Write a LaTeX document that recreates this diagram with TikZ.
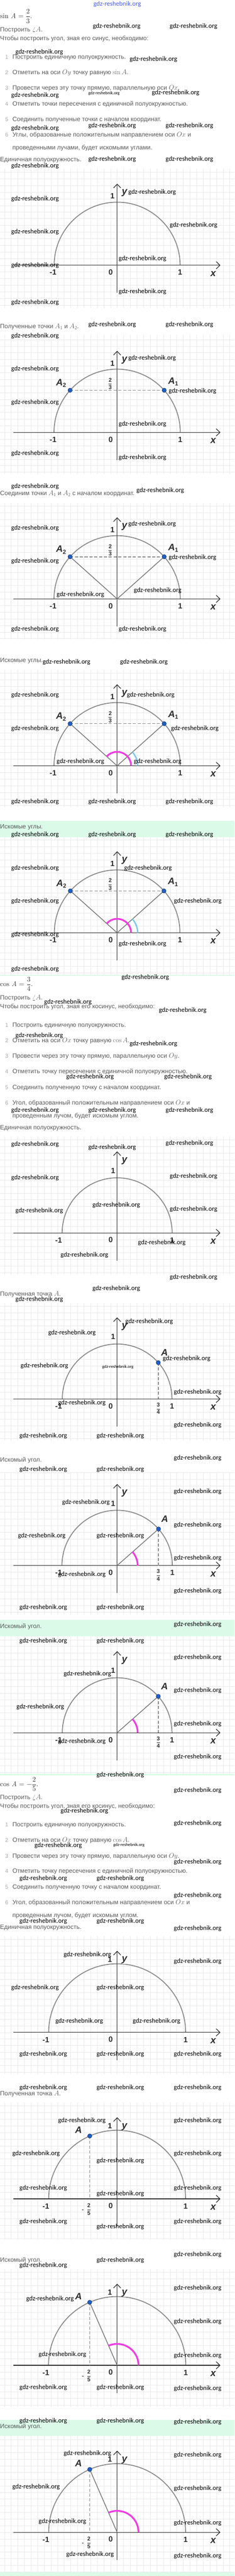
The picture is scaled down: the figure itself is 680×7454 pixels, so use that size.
\documentclass[tikz,border=0pt]{standalone}
\usepackage{fix-cm}
\usepackage{amsmath}
\usepackage[no-math]{fontspec}
\setmainfont{Liberation Sans}
\newfontfamily\wmfont{Carlito}
\newfontfamily\lmr{lmroman10-regular.otf}[ItalicFont=lmroman10-italic.otf]
\usetikzlibrary{arrows.meta,calc}
\definecolor{txtc}{HTML}{5A5A5A}
\definecolor{numc}{HTML}{A8A8A8}
\definecolor{frmc}{HTML}{333333}
\definecolor{gridc}{HTML}{EAEAEA}
\definecolor{mint}{HTML}{DBFBE8}
\definecolor{arcc}{HTML}{8A8A8A}
\definecolor{axc}{HTML}{2E2E2E}
\definecolor{dashc}{HTML}{8C8C8C}
\definecolor{rayc}{HTML}{7A7A7A}
\definecolor{ptc}{HTML}{1F5FC4}
\definecolor{ptd}{HTML}{17386E}
\definecolor{mag}{HTML}{F03CE2}
\definecolor{cya}{HTML}{7CC8EE}
\definecolor{wmblue}{HTML}{4A5CF0}
\newcommand\mth[1]{{\fontsize{20}{20}\selectfont$#1$}}
\newcommand\myfrac[2]{$\genfrac{}{}{1.1pt}{0}{\mbox{#1}}{\mbox{#2}}$}
\newcommand\lfr[2]{$\genfrac{}{}{0.8pt}{0}{\mbox{\lmr #1}}{\mbox{\lmr #2}}$}
\newcommand\lsub[1]{\raisebox{-5pt}{\upshape\fontsize{17}{17}\selectfont#1}}
\tikzset{
 gl/.style={draw=gridc, line width=0.9pt},
 axis/.style={draw=axc, line width=1.8pt},
 arrowax/.style={axis, -{Straight Barb[length=11pt,width=21pt]}},
 arcst/.style={draw=arcc, line width=2.6pt},
 dsh/.style={draw=dashc, dash pattern=on 9pt off 5pt},
 ray/.style={draw=rayc, line width=2.2pt},
 magst/.style={draw=mag, line width=5pt},
 cyast/.style={draw=cya, line width=4pt},
 ptdot/.style={circle, fill=ptc, draw=ptd, line width=0.9pt, minimum size=12.5pt, inner sep=0pt},
 axnum/.style={font=\bfseries\fontsize{22}{22}\selectfont, text=axc, inner sep=0pt},
 axvar/.style={font=\bfseries\itshape\fontsize{28}{28}\selectfont, text=axc, inner sep=0pt},
 ptlab/.style={font=\bfseries\itshape\fontsize{27}{27}\selectfont, text=axc, inner sep=0pt},
 frc/.style={font=\bfseries\fontsize{16}{16}\selectfont, text=axc, inner sep=0pt},
 txt/.style={anchor=base west, inner sep=0pt, yshift=-6pt, text=txtc, font=\fontsize{18}{21}\selectfont},
 itn/.style={anchor=base, inner sep=0pt, yshift=-6pt, text=numc, font=\fontsize{16}{18}\selectfont},
 frm/.style={anchor=base west, inner sep=0pt, text=frmc, font=\lmr\fontsize{20}{24}\selectfont},
 wm/.style={font=\wmfont\fontsize{19}{19}\selectfont, anchor=west, inner sep=0pt, text=black},
 wms/.style={font=\wmfont\fontsize{12.5}{12.5}\selectfont, anchor=west, inner sep=0pt, text=black},
}
\newcommand\gpanel[3]{%
 \fill[white] (0,#1) rectangle (680,#2);
 \begin{scope}
 \clip (0,#1) rectangle (680,#2);
 \foreach \k in {-18,...,18} \draw[gl] ({339.6+19.2*\k},#1) -- ({339.6+19.2*\k},#2);
 \foreach \k in {-25,...,25} \draw[gl] (0,{#3+19.2*\k}) -- (680,{#3+19.2*\k});
 \end{scope}}
\newcommand\semi[7]{%
 \coordinate (#1O) at (339.6,#2);
 \coordinate (#1R) at (339.6+#3,#2);
 \coordinate (#1xs) at (39,#2);
 \coordinate (#1xe) at (639,#2);
 \coordinate (#1yt) at (339.6,#2-236);
 \coordinate (#1yb) at (339.6,#2+80);
 \draw[arcst] (#1R) arc[start angle=0,end angle=180,radius=#3pt];
 \draw[arrowax] (#1xs) -- (#1xe);
 \draw[arrowax] (#1yb) -- (#1yt);
 \node[axnum] (#1lm) at (#6,#2+21) {-1};
 \node[axnum] (#1lz) at (321,#2+20.5) {0};
 \node[axnum] (#1lp) at (339.6+#3,#2+21) {1};
 \node[axvar] (#1lx) at (618,#2+24.5) {x};
 \node[axvar,#7] (#1ly) at (361,#2-208.5) {y};
 \node[axnum] (#1lu) at (#4,#2-#5) {1};
}
\newcommand\sinfig[4]{%
 \coordinate (#1A1) at ($(#1O)+(41.81:#2pt)$);
 \coordinate (#1A2) at ($(#1O)+(138.19:#2pt)$);
 \draw[dsh,line width=#3pt] (#1A2) -- (#1A1);
 \ifnum#4>0 \draw[ray] (#1O) -- (#1A1); \draw[ray] (#1O) -- (#1A2);\fi
 \ifnum#4>1
  \draw[magst] ($(#1O)+(40.5,0)$) arc[start angle=0,end angle=138.19,radius=40.5pt];
  \draw[cyast] ($(#1O)+(59.5,0)$) arc[start angle=0,end angle=41.81,radius=59.5pt];
 \fi
 \node[ptdot] (#1P1) at (#1A1) {};
 \node[ptdot] (#1P2) at (#1A2) {};
 \node[ptlab] (#1L1) at ($(#1A1)+(26,-25)$) {A\lsub{1}};
 \node[ptlab] (#1L2) at ($(#1A2)+(-26,-20)$) {A\lsub{2}};
 \node[frc] (#1F) at ($(#1O)+(-20,-141)$) {\myfrac{2}{3}};
}
\newcommand\cosa[3]{%
 \coordinate (#1A) at ($(#1O)+(41.41:#2pt)$);
 \draw[dsh,line width=2.6pt] (#1A) -- (#1A |- #1O);
 \ifnum#3>0 \draw[ray] (#1O) -- (#1A);
  \draw[magst] ($(#1O)+(59.5,0)$) arc[start angle=0,end angle=41.41,radius=59.5pt];\fi
 \node[ptdot] (#1P) at (#1A) {};
 \node[ptlab] (#1L) at ($(#1A)+(18,-29.5)$) {A};
 \node[frc] (#1F) at ($(#1O)+(119.3,27.7)$) {\myfrac{3}{4}};
}
\newcommand\cosb[3]{%
 \coordinate (#1A) at ($(#1O)+(113.58:#2pt)$);
 \draw[dsh,line width=2.6pt] (#1A) -- (#1A |- #1O);
 \ifnum#3>0 \draw[ray] (#1O) -- (#1A);
  \draw[magst] ($(#1O)+(62,0)$) arc[start angle=0,end angle=113.58,radius=62pt];\fi
 \node[ptdot] (#1P) at (#1A) {};
 \node[ptlab] (#1L) at ($(#1A)+(-32.5,-17)$) {A};
 \node[frc,anchor=east] (#1F) at ($(#1O)+(-76.2,30.5)$) {-\hspace{9pt}\myfrac{2}{5}};
}
\begin{document}
\begin{tikzpicture}[x=1pt,y=-1pt]
\useasboundingbox (0,0) rectangle (680,7454);
\fill[white] (0,0) rectangle (680,7454);
% green answer blocks
\fill[mint] (0,2374.2) rectangle (680,2823);
\fill[mint] (0,4686.8) rectangle (680,5137.4);
\fill[mint] (0,7001.9) rectangle (680,7454);
% ---------- section 1 texts
\node[frm] (f1) at (0,53.5) {sin \textit{A} = \lfr{2}{3}.};
\node[txt] (s1a) at (0,85.7) {Построить \mth{\angle A}.};
\node[txt] (s1b) at (0,111.6) {Чтобы построить угол, зная его синус, необходимо:};
\node[itn] (s1n1) at (19.5,164.6) {1};
\node[txt] (s1i1) at (36,164.6) {Построить единичную полуокружность.};
\node[itn] (s1n2) at (19.5,209.3) {2};
\node[txt] (s1i2) at (36,209.3) {Отметить на оси \mth{Oy} точку равную \mth{\sin A}.};
\node[itn] (s1n3) at (19.5,254.3) {3};
\node[txt] (s1i3) at (36,254.3) {Провести через эту точку прямую, параллельную оси \mth{Ox}.};
\node[itn] (s1n4) at (19.5,299.7) {4};
\node[txt] (s1i4) at (36,299.7) {Отметить точки пересечения с единичной полуокружностью.};
\node[itn] (s1n5) at (19.5,344.8) {5};
\node[txt] (s1i5) at (36,344.8) {Соединить полученные точки с началом координат.};
\node[itn] (s1n6) at (19.5,389.8) {6};
\node[txt] (s1i6) at (36,389.8) {Углы, образованные положительным направлением оси \mth{Ox} и};
\node[txt] (s1i6b) at (36,426.5) {проведенными лучами, будет искомыми углами.};
\node[txt] (s1c) at (0,461.2) {Единичная полуокружность.};
\node[txt] (s1d) at (0,944.9) {Полученные точки \mth{A_1} и \mth{A_2}.};
\node[txt] (s1e) at (0,1427.3) {Соединим точки \mth{A_1} и \mth{A_2} с началом координат.};
\node[txt] (s1f) at (0,1909.8) {Искомые углы.};
\node[txt] (s1g) at (0,2392.1) {Искомые углы.};
% ---------- section 2 texts
\node[frm] (f2) at (0,2854.5) {cos \textit{A} = \lfr{3}{4}.};
\node[txt] (s2a) at (0,2887.4) {Построить \mth{\angle A}.};
\node[txt] (s2b) at (0,2912.5) {Чтобы построить угол, зная его косинус, необходимо:};
\node[itn] (s2n1) at (19.5,2966.3) {1};
\node[txt] (s2i1) at (36,2966.3) {Построить единичную полуокружность.};
\node[itn] (s2n2) at (19.5,3010.9) {2};
\node[txt] (s2i2) at (36,3010.9) {Отметить на оси \mth{Ox} точку равную \mth{\cos A}.};
\node[itn] (s2n3) at (19.5,3056) {3};
\node[txt] (s2i3) at (36,3056) {Провести через эту точку прямую, параллельную оси \mth{Oy}.};
\node[itn] (s2n4) at (19.5,3100) {4};
\node[txt] (s2i4) at (36,3100) {Отметить точку пересечения с единичной полуокружностью.};
\node[itn] (s2n5) at (19.5,3145.8) {5};
\node[txt] (s2i5) at (36,3145.8) {Соединить полученную точку с началом координат.};
\node[itn] (s2n6) at (19.5,3190.9) {6};
\node[txt] (s2i6) at (36,3190.9) {Угол, образованный положительным направлением оси \mth{Ox} и};
\node[txt] (s2i6b) at (36,3227.6) {проведенным лучом, будет искомым углом.};
\node[txt] (s2c) at (0,3262.6) {Единичная полуокружность.};
\node[txt] (s2d) at (0,3743.9) {Полученная точка \mth{A}.};
\node[txt] (s2e) at (0,4224.2) {Искомый угол.};
\node[txt] (s2f) at (0,4705.9) {Искомый угол.};
% ---------- section 3 texts
\node[frm] (f3) at (0,5169.3) {cos \textit{A} = −\lfr{2}{5}.};
\node[txt] (s3a) at (0,5201.2) {Построить \mth{\angle A}.};
\node[txt] (s3b) at (0,5226.3) {Чтобы построить угол, зная его косинус, необходимо:};
\node[itn] (s3n1) at (19.5,5280.1) {1};
\node[txt] (s3i1) at (36,5280.1) {Построить единичную полуокружность.};
\node[itn] (s3n2) at (19.5,5324.7) {2};
\node[txt] (s3i2) at (36,5324.7) {Отметить на оси \mth{Ox} точку равную \mth{\cos A}.};
\node[itn] (s3n3) at (19.5,5369.8) {3};
\node[txt] (s3i3) at (36,5369.8) {Провести через эту точку прямую, параллельную оси \mth{Oy}.};
\node[itn] (s3n4) at (19.5,5414.4) {4};
\node[txt] (s3i4) at (36,5414.4) {Отметить точку пересечения с единичной полуокружностью.};
\node[itn] (s3n5) at (19.5,5460.2) {5};
\node[txt] (s3i5) at (36,5460.2) {Соединить полученную точку с началом координат.};
\node[itn] (s3n6) at (19.5,5504.9) {6};
\node[txt] (s3i6) at (36,5504.9) {Угол, образованный положительным направлением оси \mth{Ox} и};
\node[txt] (s3i6b) at (36,5542) {проведенным лучом, будет искомым углом.};
\node[txt] (s3c) at (0,5575.8) {Единичная полуокружность.};
\node[txt] (s3d) at (0,6057.1) {Полученная точка \mth{A}.};
\node[txt] (s3e) at (0,6538.8) {Искомый угол.};
\node[txt] (s3f) at (0,7021.3) {Искомый угол.};
% ---------- diagrams, section 1
\gpanel{487}{891}{767.5}
\semi{a}{767.5}{182.5}{326}{200}{154}{}
\gpanel{968.8}{1371.5}{1251.2}
\semi{b}{1251.2}{183}{326}{200}{154}{}
\sinfig{b}{183}{2.8}{0}
\gpanel{1455.2}{1850}{1733}
\semi{c}{1733}{183}{326}{200}{154}{}
\sinfig{c}{183}{2.8}{1}
\gpanel{1937.7}{2336.3}{2216}
\semi{d}{2216}{183}{326}{200}{154}{}
\sinfig{d}{183}{1.8}{2}
\gpanel{2422}{2820.8}{2699.2}
\semi{e}{2699.2}{182}{326}{200}{154}{}
\sinfig{e}{182}{1.8}{2}
% ---------- section 2
\gpanel{3289.3}{3688}{3567.6}
\semi{f}{3567.6}{159.5}{328}{180}{170}{}
\gpanel{3769.8}{4168.4}{4048}
\semi{g}{4048}{159}{328}{180}{170}{}
\cosa{g}{159}{0}
\gpanel{4262.1}{4672}{4530.1}
\semi{h}{4530.1}{160}{328}{180}{170}{}
\cosa{h}{160}{1}
\gpanel{4734.6}{5133.4}{5013.8}
\semi{i}{5013.8}{159}{328}{180}{170}{}
\cosa{i}{159}{1}
% ---------- section 3
\gpanel{5601.9}{6001.7}{5880.9}
\semi{j}{5880.9}{198.5}{318.8}{211}{133.1}{fill=white}
\gpanel{6084.2}{6481}{6362.6}
\semi{k}{6362.6}{198.5}{318.8}{211}{133.1}{fill=white}
\cosb{k}{198.5}{0}
\gpanel{6564.7}{6965.5}{6844.3}
\semi{l}{6844.3}{199}{318.8}{211}{133.1}{fill=white}
\cosb{l}{199}{1}
\gpanel{7048.4}{7442.6}{7327.4}
\semi{m}{7327.4}{198.5}{318.8}{211}{133.1}{fill=white}
\cosb{m}{198.5}{1}
% ---------- watermarks
\node[wm, anchor=center, text=wmblue] (wtop) at (340,12) {gdz-reshebnik.org};
\foreach \x/\y [count=\i] in {269/75.7, 492/75.7, 44.7/151.5, 375.6/172.2, 32.5/275.8, 440/267.9, 32.5/371.9, 256/363.9, 480/363.9, 256/460.4, 480/460.4, 32.5/480.3, 372/556, 32.5/576,
492/651.9, 32.5/671.8, 344/748.3, 32.5/768.3, 344/844, 32.5/875.9, 256/940, 480/940, 32.5/972, 372/1036.5, 32.5/1068.4, 489/1132.2, 32.5/1164, 344/1227.9,
32.5/1312.5, 344/1324.5, 32.5/1408.2, 395.5/1420.2, 372/1515.8, 32.5/1527.8, 489/1612.7, 32.5/1623.9, 388/1708.4, 164/1720.3, 32.5/1820, 344/1820,
123.6/1915.8, 348.2/1915.8, 367.8/2011.5, 32.5/2011.5, 495.7/2107.9, 32.5/2107.9, 164/2203.6, 388/2203.6, 32.5/2320.4, 256/2320.4, 480/2320.4, 32.5/2416, 256/2416, 480/2416,
360/2511.9, 32.5/2511.9, 504.4/2608.3, 32.5/2608.3, 32.5/2704, 344/2731.9, 32.5/2803.7, 352/2828.8, 128/2899.3, 460.6/2923.2, 44.7/2996.2, 375.6/3020.1,
192/3116.7, 476/3116.7, 32.5/3212.4, 256/3212.4, 480/3212.4, 32.5/3312, 480/3308, 256/3320, 32.5/3407.7, 492/3403.7, 268/3487.4, 44.7/3503.8, 492/3499.8, 400/3596.3, 175.6/3632.1, 492/3695.9,
268/3728, 44.7/3759.9, 363.4/3824.4, 139.6/3856.3, 471.9/3932, 59.8/3952, 504/4027.7, 168.3/4059.6, 504/4123.4, 56.4/4155.3, 279.7/4155.3, 504/4219, 56.4/4252.1, 279.7/4252.1, 504/4315.9,
180/4348, 504/4412.5, 52/4444.4, 279.7/4444.4, 504/4508.2, 168.3/4556, 504/4603.9, 56.4/4651.7, 279.7/4651.7, 504/4700, 56.4/4747.8, 279.7/4747.8, 504/4795.6, 184.3/4844.2, 504/4892, 47.7/4939.9,
504/4987.9, 168.3/5039.7, 504/5084.4, 279.7/5136.2, 504/5180, 175.6/5240.2, 504/5276.1, 99.7/5339.5, 504/5388.5, 56.4/5436.3, 279.7/5436.3, 504/5484.2, 56.4/5559.9, 279.7/5559.9, 504/5579.8,
184.3/5655.7, 504/5675.7, 32.5/5752.2, 279.7/5752.2, 160.5/5847.9, 384.7/5847.9, 56.4/5943.5, 279.7/5943.5, 504/5943.5, 56.4/6040.4, 279.7/6040.4, 504/6040.4, 168.3/6136, 504/6136,
35.6/6231.9, 504/6231.9, 279.7/6252.6, 56.4/6332.3, 504/6332.3, 279.7/6348.3, 56.4/6428, 504/6428, 279.7/6443.9, 504/6523.7, 279.7/6539.6, 56.4/6555.6, 504/6620.5, 75.9/6652.4, 504/6717, 111.9/6812.6, 504/6815.8,
56.4/6908.1, 279.7/6908.1, 504/6912.2, 56.4/7004.8, 279.7/7004.8, 504/7008, 184.3/7099.8, 504/7104.2, 35.6/7196, 504/7200, 111.9/7296.3, 504/7300.3, 192.1/7392.1, 504/7396.1}
 \node[wm] (w\i) at (\x,\y) {gdz-reshebnik.org};
\foreach \x/\y [count=\i] in {256/271, 296.2/3955.2, 328.3/5338.7}
 \node[wms] (ws\i) at (\x,\y) {gdz-reshebnik.org};
\end{tikzpicture}
\end{document}
